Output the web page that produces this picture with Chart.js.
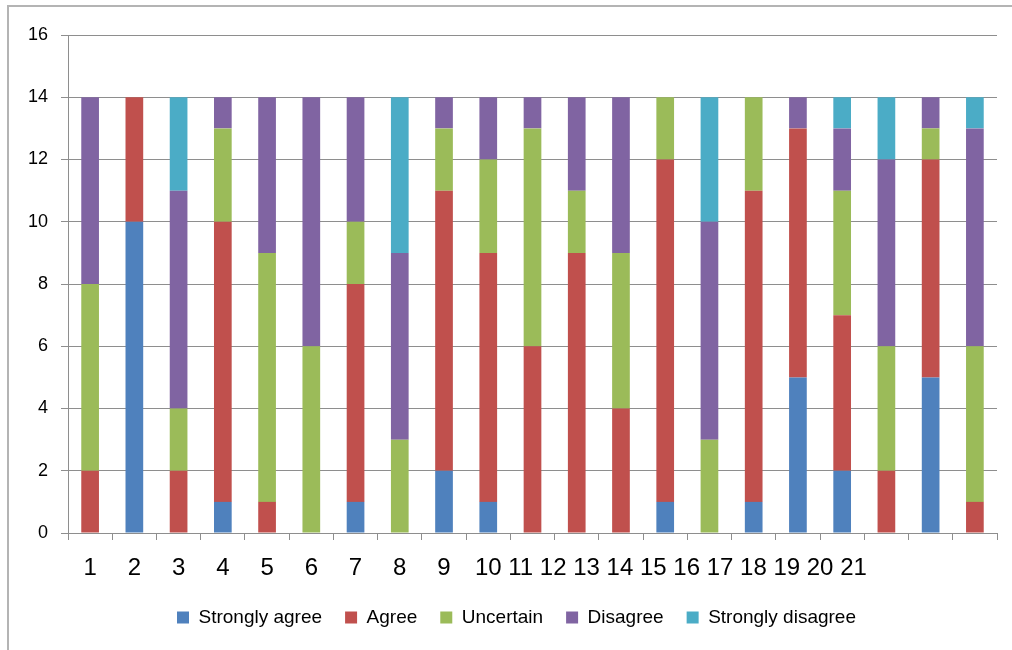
<!DOCTYPE html>
<html>
<head>
    <title>Responses per item</title>
    <script src="https://cdn.jsdelivr.net/npm/chart.js@4.4.0/dist/chart.umd.min.js"></script>
    <style>
        body {
            margin: 0;
            background: #fff;
            overflow: hidden;
        }
        .wrap {
            position: relative;
            width: 1012px;
            height: 650px;
        }
        .frame {
            position: absolute;
            left: 7px;
            top: 5px;
            right: -10px;
            bottom: -10px;
            border-left: 2px solid #b4b4b4;
            border-top: 2px solid #b4b4b4;
            pointer-events: none;
        }
        canvas {
            position: absolute;
            left: 0;
            top: 0;
        }
    </style>
</head>
<body>
    <div class="wrap">
        <canvas id="likertChart" width="1012" height="650"></canvas>
        <div class="frame"></div>
    </div>

    <script>
        const items = ['1', '2', '3', '4', '5', '6', '7', '8', '9', '10', '11',
                       '12', '13', '14', '15', '16', '17', '18', '19', '20', '21'];

        const stronglyAgree    = [0, 10, 0, 1, 0, 0, 1, 0, 2, 1, 0, 0, 0, 1, 0, 1, 5, 2, 0, 5, 0];
        const agree            = [2, 4, 2, 9, 1, 0, 7, 0, 9, 8, 6, 9, 4, 11, 0, 10, 8, 5, 2, 7, 1];
        const uncertain        = [6, 0, 2, 3, 8, 6, 2, 3, 2, 3, 7, 2, 5, 2, 3, 3, 0, 4, 4, 1, 5];
        const disagree         = [6, 0, 7, 1, 5, 8, 4, 6, 1, 2, 1, 3, 5, 0, 7, 0, 1, 2, 6, 1, 7];
        const stronglyDisagree = [0, 0, 3, 0, 0, 0, 0, 5, 0, 0, 0, 0, 0, 0, 4, 0, 0, 1, 2, 0, 1];

        const yTicks = [0, 2, 4, 6, 8, 10, 12, 14, 16];

        const fontFamily = '"Liberation Sans", Arial, sans-serif';
        const gridColor = '#8e8e8e';

        // item numbers under the axis: 1-9 under their bars, 10 onwards run together
        // like in the original figure
        const xLabelRow = {
            id: 'xLabelRow',
            afterDraw(chart) {
                const { ctx } = chart;
                const x = chart.scales.x;
                const baseline = x.top + 42;
                ctx.save();
                ctx.font = '24px ' + fontFamily;
                ctx.fillStyle = '#000';
                ctx.textBaseline = 'alphabetic';
                ctx.textAlign = 'center';
                for (let i = 0; i < 9; i++) {
                    ctx.fillText(items[i], x.getPixelForValue(i), baseline);
                }
                ctx.textAlign = 'left';
                const start = x.getPixelForValue(9) - ctx.measureText(items[9]).width / 2;
                ctx.fillText(items.slice(9).join(' '), start, baseline);
                ctx.restore();
            }
        };

        // the legend in the source sits a bit right of the canvas centre
        const legendNudge = {
            id: 'legendNudge',
            afterLayout(chart) {
                chart.legend.left += 18;
                chart.legend.right += 18;
            }
        };

        const ctx = document.getElementById('likertChart').getContext('2d');
        const likertChart = new Chart(ctx, {
            type: 'bar',
            data: {
                labels: items,
                datasets: [
                    { label: 'Strongly agree', data: stronglyAgree, backgroundColor: '#4f81bd' },
                    { label: 'Agree', data: agree, backgroundColor: '#c0504d' },
                    { label: 'Uncertain', data: uncertain, backgroundColor: '#9bbb59' },
                    { label: 'Disagree', data: disagree, backgroundColor: '#8064a2' },
                    { label: 'Strongly disagree', data: stronglyDisagree, backgroundColor: '#4bacc6' }
                ]
            },
            options: {
                responsive: false,
                animation: false,
                categoryPercentage: 1,
                barPercentage: 0.4,
                layout: { padding: { left: 0, right: 15, top: 35, bottom: 13 } },
                plugins: {
                    title: { display: false },
                    tooltip: { enabled: false },
                    legend: {
                        position: 'bottom',
                        labels: {
                            boxWidth: 12,
                            boxHeight: 12,
                            padding: 23,
                            color: '#000',
                            font: { family: fontFamily, size: 19 }
                        }
                    }
                },
                scales: {
                    x: {
                        stacked: true,
                        grid: { offset: true, drawOnChartArea: false, drawTicks: true, tickLength: 7, color: gridColor },
                        border: { color: gridColor, width: 1 },
                        ticks: { display: false },
                        afterFit(scale) { scale.height = 52; }
                    },
                    y: {
                        stacked: true,
                        min: 0,
                        max: 16,
                        afterBuildTicks(scale) { scale.ticks = yTicks.map(v => ({ value: v })); },
                        grid: { color: gridColor, tickLength: 7 },
                        border: { color: gridColor, width: 1 },
                        ticks: {
                            padding: 13,
                            color: '#000',
                            font: { family: fontFamily, size: 18 }
                        },
                        afterFit(scale) { scale.width = 68; }
                    }
                }
            },
            plugins: [xLabelRow, legendNudge]
        });
    </script>
</body>
</html>
